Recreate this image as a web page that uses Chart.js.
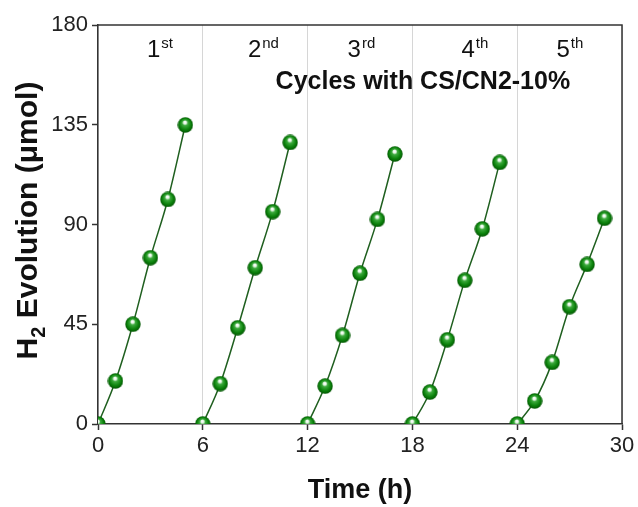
<!DOCTYPE html>
<html>
<head>
<meta charset="utf-8">
<script src="https://cdn.jsdelivr.net/npm/chart.js@4.4.1/dist/chart.umd.min.js"></script>
<style>
  html, body { margin: 0; padding: 0; background: #fff; }
  #wrap { width: 638px; height: 507px; }
</style>
</head>
<body>
<div id="wrap"><canvas id="c" width="638" height="507"></canvas></div>
<script>
// ---- data ----
const cycle1X = [0, 1, 2, 3, 4, 5];
const cycle1Y = [0, 19.4, 45.0, 75.0, 101.3, 134.9];
const cycle2X = [6, 7, 8, 9, 10, 11];
const cycle2Y = [0, 18.2, 43.4, 70.5, 95.8, 127.0];
const cycle3X = [12, 13, 14, 15, 16, 17];
const cycle3Y = [0, 17.1, 40.0, 68.0, 92.3, 121.8];
const cycle4X = [18, 19, 20, 21, 22, 23];
const cycle4Y = [0, 14.4, 38.0, 64.8, 88.0, 118.0];
const cycle5X = [24, 25, 26, 27, 28, 29];
const cycle5Y = [0, 10.4, 27.8, 52.9, 72.0, 92.8];

const xTicks = [0, 6, 12, 18, 24, 30];
const yTicks = [0, 45, 90, 135, 180];

const cycleLabels = [["1", "st"], ["2", "nd"], ["3", "rd"], ["4", "th"], ["5", "th"]];
const cycleLabelX = [3.55, 9.47, 15.08, 21.58, 27.02];
const annotationText = "Cycles with CS/CN2-10%";

// ---- sphere marker sprite ----
function makeSphere(d) {
  const c = document.createElement('canvas');
  c.width = d; c.height = d;
  const g = c.getContext('2d');
  const r = d / 2;
  const grad = g.createRadialGradient(r * 0.95, r * 0.62, 0.3, r, r, r);
  grad.addColorStop(0, '#ffffff');
  grad.addColorStop(0.16, '#e6f6e6');
  grad.addColorStop(0.32, '#3eaa3e');
  grad.addColorStop(0.7, '#0b820b');
  grad.addColorStop(1, '#035203');
  g.fillStyle = grad;
  g.beginPath();
  g.arc(r, r, r - 0.3, 0, Math.PI * 2);
  g.fill();
  return c;
}
const sphere = makeSphere(16);

function toPts(xs, ys) { return xs.map((x, i) => ({ x: x, y: ys[i] })); }
const series = [[cycle1X, cycle1Y], [cycle2X, cycle2Y], [cycle3X, cycle3Y], [cycle4X, cycle4Y], [cycle5X, cycle5Y]];

const datasets = series.map(s => ({
  data: toPts(s[0], s[1]),
  borderColor: '#1f5f1f',
  borderWidth: 1.5,
  pointStyle: sphere,
  pointRadius: 8,
  pointHoverRadius: 8,
  cubicInterpolationMode: 'monotone',
  clip: 0,
  fill: false
}));

const FONT = "'Liberation Sans', Arial, Helvetica, sans-serif";

const decor = {
  id: 'decor',
  afterDraw(chart) {
    const ctx = chart.ctx;
    const a = chart.chartArea;
    const xs = chart.scales.x, ys = chart.scales.y;
    ctx.save();
    // top and right box lines
    ctx.strokeStyle = '#333';
    ctx.lineWidth = 1.5;
    ctx.beginPath();
    ctx.moveTo(a.left, a.top);
    ctx.lineTo(a.right, a.top);
    ctx.lineTo(a.right, a.bottom);
    ctx.stroke();

    // cycle labels with superscripts
    ctx.fillStyle = '#111';
    ctx.textBaseline = 'alphabetic';
    const by = ys.getPixelForValue(165.5);
    cycleLabels.forEach((lab, i) => {
      ctx.font = '24px ' + FONT;
      const w1 = ctx.measureText(lab[0]).width;
      ctx.font = '15px ' + FONT;
      const w2 = ctx.measureText(lab[1]).width;
      const cx = xs.getPixelForValue(cycleLabelX[i]);
      const x0 = cx - (w1 + w2 + 1) / 2;
      ctx.font = '24px ' + FONT;
      ctx.textAlign = 'left';
      ctx.fillText(lab[0], x0, by);
      ctx.font = '15px ' + FONT;
      ctx.fillText(lab[1], x0 + w1 + 1, by - 9);
    });

    // annotation
    ctx.font = 'bold 25px ' + FONT;
    ctx.textAlign = 'center';
    ctx.fillText(annotationText, xs.getPixelForValue(18.6), ys.getPixelForValue(151.1));

    // y axis title with subscript
    ctx.translate(37, (a.top + a.bottom) / 2 - 4);
    ctx.rotate(-Math.PI / 2);
    const p1 = 'H', p2 = '2', p3 = ' Evolution (\u03bcmol)';
    ctx.font = 'bold 30px ' + FONT;
    const wa = ctx.measureText(p1).width;
    const wc = ctx.measureText(p3).width;
    ctx.font = 'bold 20px ' + FONT;
    const wb = ctx.measureText(p2).width;
    const total = wa + wb + wc;
    let x = -total / 2;
    ctx.textAlign = 'left';
    ctx.font = 'bold 30px ' + FONT;
    ctx.fillText(p1, x, 0);
    x += wa;
    ctx.font = 'bold 20px ' + FONT;
    ctx.fillText(p2, x, 8);
    x += wb;
    ctx.font = 'bold 30px ' + FONT;
    ctx.fillText(p3, x, 0);
    ctx.restore();
  }
};

new Chart(document.getElementById('c'), {
  type: 'line',
  data: { datasets: datasets },
  plugins: [decor],
  options: {
    responsive: false,
    animation: false,
    events: [],
    layout: { padding: { top: 25, right: 16, left: 0, bottom: 0 } },
    plugins: { legend: { display: false }, tooltip: { enabled: false } },
    scales: {
      x: {
        type: 'linear',
        min: 0, max: 30,
        afterBuildTicks(scale) { scale.ticks = xTicks.map(v => ({ value: v })); },
        afterFit(scale) { scale.height = 83; },
        ticks: { color: '#222', font: { family: FONT, size: 22 }, padding: 3, maxRotation: 0 },
        grid: { drawOnChartArea: true, color: '#d6d6d6', lineWidth: 1, tickColor: '#333', tickLength: 6, tickWidth: 1.5 },
        border: { color: '#333', width: 1.5 },
        title: { display: true, text: 'Time (h)', color: '#111', font: { family: FONT, size: 27, weight: 'bold' }, padding: { top: 10, bottom: 0 } }
      },
      y: {
        type: 'linear',
        min: 0, max: 180,
        afterBuildTicks(scale) { scale.ticks = yTicks.map(v => ({ value: v })); },
        afterFit(scale) { scale.width = 98; },
        ticks: { color: '#222', font: { family: FONT, size: 22 }, padding: 4 },
        grid: { drawOnChartArea: false, tickColor: '#333', tickLength: 6, tickWidth: 1.5 },
        border: { color: '#333', width: 1.5 }
      }
    }
  }
});
</script>
</body>
</html>
